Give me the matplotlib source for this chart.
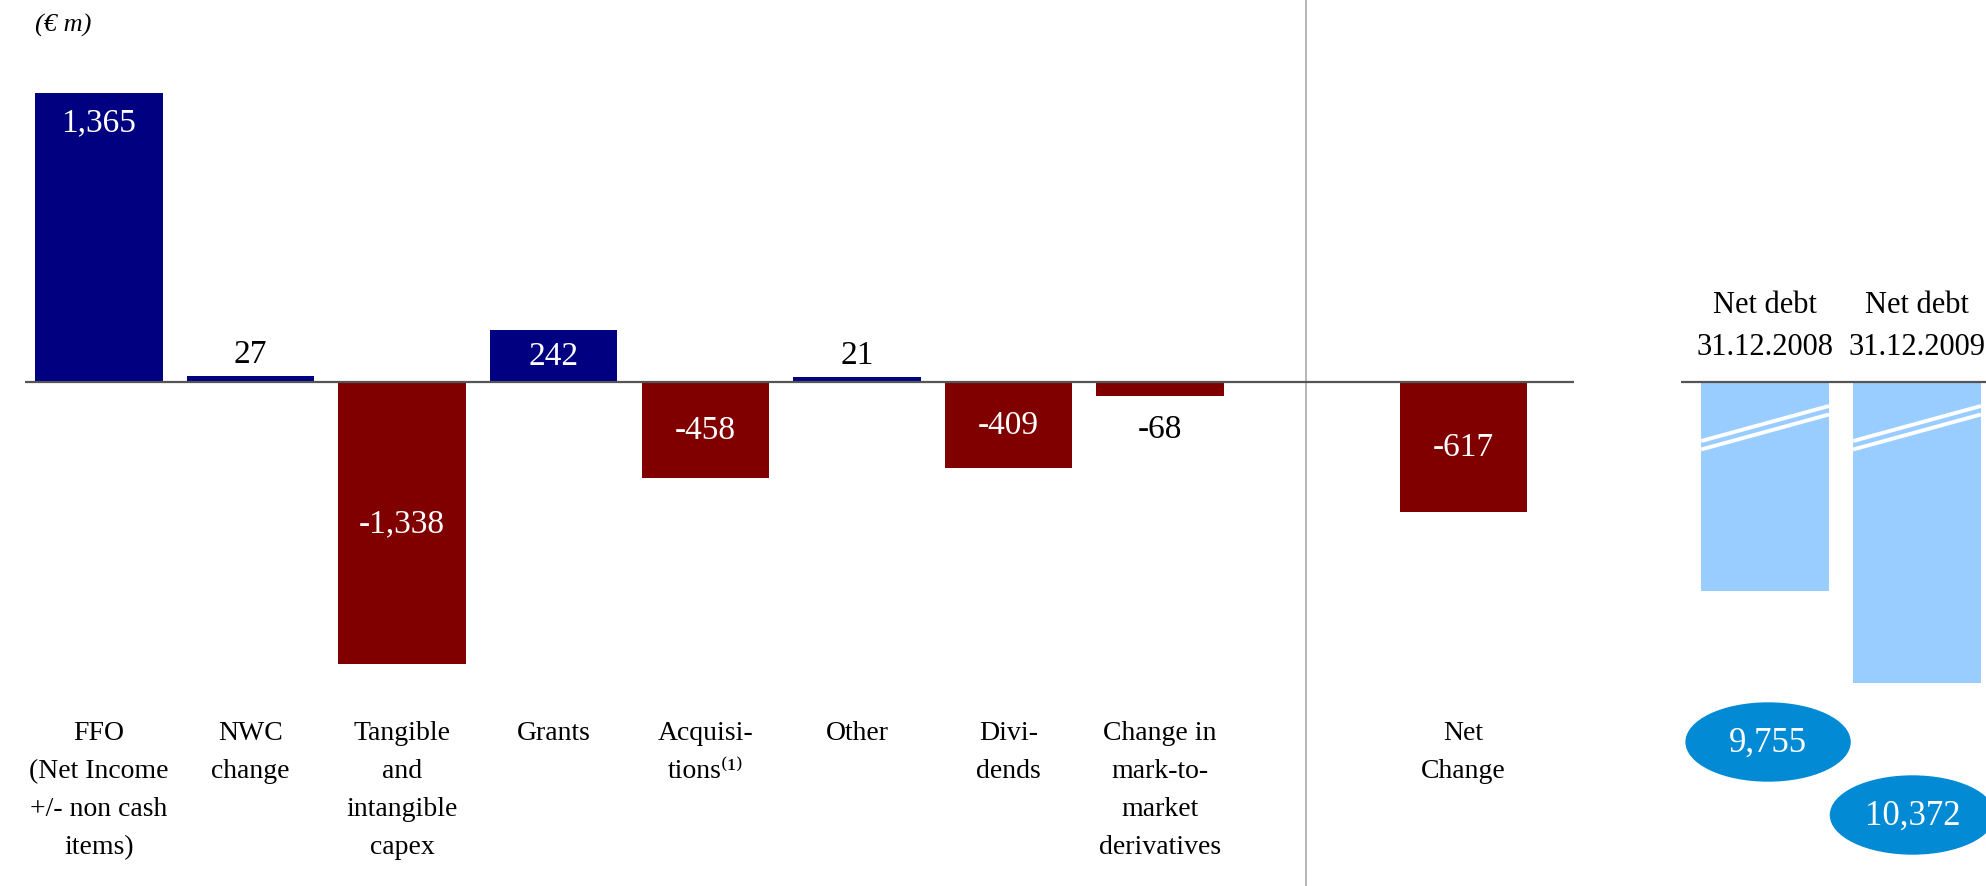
import matplotlib.pyplot as plt
from matplotlib.patches import Ellipse
from matplotlib.transforms import blended_transform_factory

plt.rcParams['font.family'] = ['Liberation Serif', 'DejaVu Serif']

# Cash flow bridge items (EUR m)
categories = ['FFO\n(Net Income\n+/- non cash\nitems)', 'NWC\nchange', 'Tangible\nand\nintangible\ncapex',
              'Grants', 'Acquisi-\ntions\u207d\u00b9\u207e', 'Other', 'Divi-\ndends',
              'Change in\nmark-to-\nmarket\nderivatives']
values = [1365, 27, -1338, 242, -458, 21, -409, -68]
net_change_label = 'Net\nChange'
net_change = -617

# Net debt at year ends
debt_labels = ['Net debt\n31.12.2008', 'Net debt\n31.12.2009']
net_debt = [9755, 10372]
debt_base = 8339  # where the broken debt bars start

W, H = 1986, 887
fig = plt.figure(figsize=(W / 100, H / 100), dpi=100)

navy = '#000080'
maroon = '#800000'
light_blue = '#99CCFF'
oval_blue = '#028AD4'

# left part: bridge bars
ax = fig.add_axes([25 / W, 0, (1574 - 25) / W, 1])
px = 0.2115  # pixels per EUR m
ax.set_xlim(-0.487, 9.73)
ax.set_ylim(-(H - 382.5) / px, 382.5 / px)
ax.axis('off')

xs = list(range(len(values))) + [9]
allvals = values + [net_change]
colors = [navy if v > 0 else maroon for v in allvals]
ax.bar(xs, allvals, width=0.84, color=colors, zorder=2)
ax.axhline(0, color='#555555', lw=1.6, zorder=3)
ax.axvline(7.96, ymin=0, ymax=1, color='#aaaaaa', lw=1.2)

for i, (x, v) in enumerate(zip(xs, allvals)):
    txt = f'{v:,}'
    if abs(v) < 100:
        off = 5 if v > 0 else -13
        ax.annotate(txt, (x, v), xytext=(0, off), textcoords='offset points',
                    ha='center', va='bottom' if v > 0 else 'top', fontsize=24, color='black')
    elif i == 0:
        ax.annotate(txt, (x, v), xytext=(0, -10), textcoords='offset points',
                    ha='center', va='top', fontsize=24, color='white')
    else:
        ax.text(x, v / 2, txt, ha='center', va='center', fontsize=24, color='white')

bt = blended_transform_factory(ax.transData, fig.transFigure)
for x, lab in zip(xs, categories + [net_change_label]):
    ax.text(x, 1 - 721 / H, lab, transform=bt, ha='center', va='top',
            fontsize=20, linespacing=1.68, multialignment='center')

fig.text(35 / W, 1 - 25 / H, '(\u20ac m)', fontsize=19, style='italic', va='center')

# right part: net debt bars with axis break
ax2 = fig.add_axes([1681 / W, 0, (W - 1681) / W, 1])
dpx = 0.1483
ax2.set_xlim(-0.553, 1.454)
ax2.set_ylim(debt_base + (H - 382.5) / dpx, debt_base - 382.5 / dpx)
ax2.axis('off')
dx = [0, 1]
ax2.bar(dx, [d - debt_base for d in net_debt], bottom=debt_base, width=0.84,
        color=light_blue, zorder=2)
ax2.axhline(debt_base, color='#555555', lw=1.6, zorder=3)

bt2 = blended_transform_factory(ax2.transData, fig.transFigure)
for x in dx:
    for dy in (0, 8.5):
        ax2.plot([x - 0.42, x + 0.42], [1 - (442 + dy) / H, 1 - (407 + dy) / H],
                 transform=bt2, color='white', lw=2.8, solid_capstyle='butt', zorder=4)

for x, lab in zip(dx, debt_labels):
    ax2.text(x, 1 - 291 / H, lab, transform=bt2, ha='center', va='top',
             fontsize=22, linespacing=1.58, multialignment='center')

oval_pos = [(0.02, 1 - 743 / H), (0.97, 1 - 816 / H)]
for (ox, oy), d in zip(oval_pos, net_debt):
    ax2.add_patch(Ellipse((ox, oy), 164 / 152, 78 / H, transform=bt2,
                          color=oval_blue, clip_on=False, zorder=5))
    ax2.text(ox, oy, f'{d:,}', transform=bt2, ha='center', va='center',
             fontsize=25, color='white', zorder=6)

fig.savefig('out.png', dpi=100)
